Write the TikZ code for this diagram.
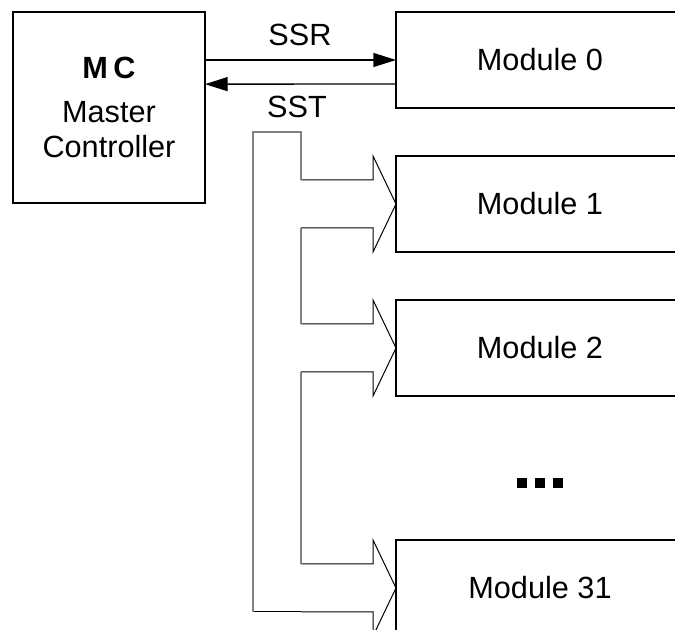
\documentclass[tikz,border=0pt]{standalone}
\usepackage{fontspec}
\setmainfont{Liberation Sans}
\usepackage{tikz}
\usetikzlibrary{calc}
\usetikzlibrary{arrows.meta}

\begin{document}
\begin{tikzpicture}[x=0.75pt,y=-0.75pt,
  font=\fontsize{23}{26}\selectfont,
  box/.style={draw, line width=1.5pt, outer sep=0pt, inner sep=0pt},
  module/.style={box, minimum width=216pt, minimum height=72pt},
  sig/.style={line width=1pt, -{Triangle[length=17pt,width=10.5pt]}},
  hollow/.style={line width=0.75pt, black},
  bus/.style={line width=1pt, gray}]
\useasboundingbox (0,0) rectangle (675,630);
\clip (0,0) rectangle (675,630);

% master and modules
\node [box, minimum width=144pt, minimum height=143pt, align=center] (MC) at (109,107.5)
  {{\bfseries M\kern4pt C}\\[7pt]Master\\Controller};
\node [module] (M0) at (540,60) {Module 0};
\node [module] (M1) at (540,204) {Module 1};
\node [module] (M2) at (540,348) {Module 2};
\node [module] (M31) at (540,588) {Module 31};

% SSR / SST
\draw [sig] (MC.north east |- M0.west) -- (M0.west);
\draw [sig] ($(M0.west)+(0,24)$) -- ($(MC.north east)+(0,72)$);
\node (ssr) at (300,35) {SSR};
\node (sst) at (297,107) {SST};

% bus to the modules
\coordinate (busin) at (301,132);
\coordinate (busout) at (253,132);
\foreach \m in {M1,M2,M31} {
  \draw [hollow] ($(\m.west)+(-95,-24)$) -- ++(72,0) -- ++(0,-24) -- (\m.west)
    -- ++(-23,48) -- ++(0,-24) -- ++(-72,0);
}
\draw [hollow] ($(M31.west)+(-95,24)$) -- ($(M31.west)+(-143,24)$);
\draw [bus] ($(M1.west)+(-95,-24)$) -- (busin) -- (busout) -- ($(M31.west)+(-143,24)$);
\draw [bus] ($(M1.west)+(-95,24)$) -- ($(M2.west)+(-95,-24)$);
\draw [bus] ($(M2.west)+(-95,24)$) -- ($(M31.west)+(-95,-24)$);

% dots
\coordinate (dots) at (540,483);
\foreach \x in {-18,0,18}
  \fill ($(dots)+(\x-5,-5)$) rectangle ++(10,10);
\end{tikzpicture}
\end{document}
